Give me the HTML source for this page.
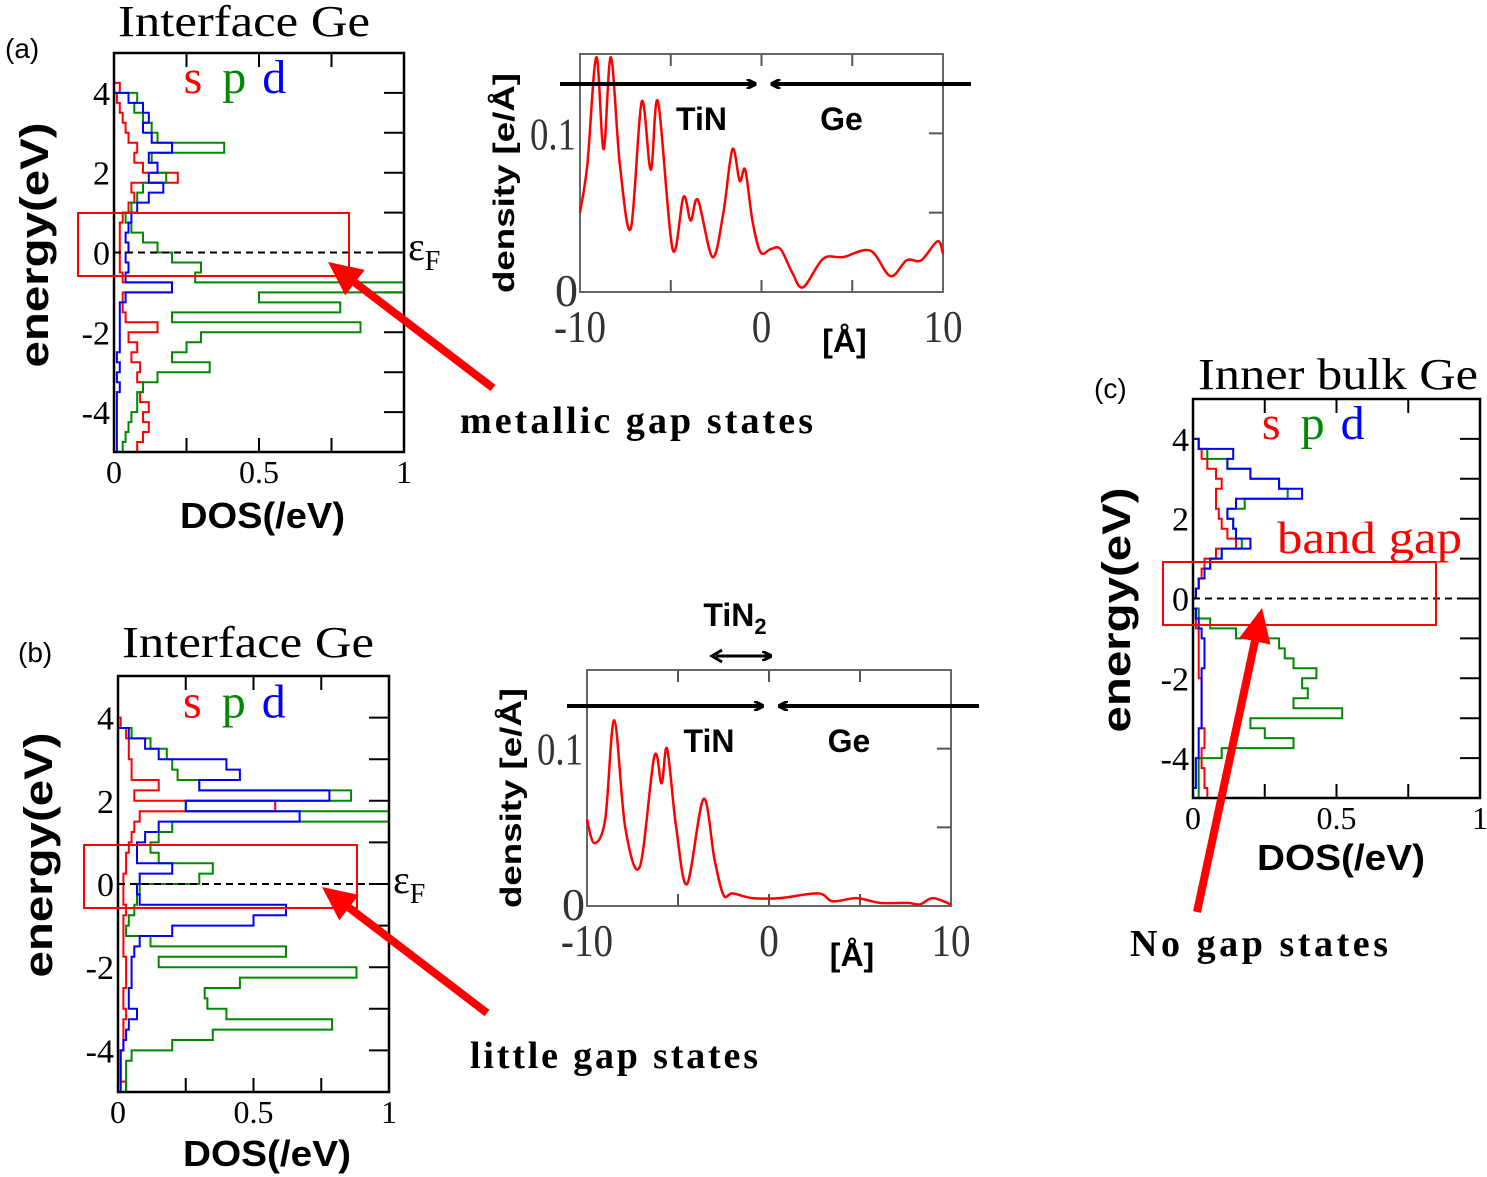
<!DOCTYPE html>
<html><head><meta charset="utf-8"><style>
html,body{margin:0;padding:0;background:#fff;}
svg{display:block;}
.serif{font-family:"Liberation Serif",serif;}
.sans{font-family:"Liberation Sans",sans-serif;font-weight:bold;}
.plain{font-family:"Liberation Sans",sans-serif;}
</style></head><body>
<svg id="fig" width="1487" height="1177" viewBox="0 0 1487 1177" xmlns="http://www.w3.org/2000/svg">
<defs>
<marker id="ah" markerWidth="10" markerHeight="10" refX="9" refY="5" orient="auto" markerUnits="userSpaceOnUse"><path d="M0,0 L10,5 L0,10" fill="none" stroke="#000" stroke-width="3"/></marker>
</defs>
<text class="plain" x="5" y="58" font-size="28">(a)</text>
<text class="serif" x="118" y="36" font-size="44" textLength="252" lengthAdjust="spacingAndGlyphs">Interface Ge</text>
<text class="sans" font-size="40" transform="translate(48,245) rotate(-90)" text-anchor="middle" textLength="245" lengthAdjust="spacingAndGlyphs">energy(eV)</text>
<text class="sans" x="180" y="528" font-size="36" textLength="165" lengthAdjust="spacingAndGlyphs">DOS(/eV)</text>
<text class="serif" x="460" y="433" font-size="38" font-weight="bold" textLength="353" lengthAdjust="spacing">metallic  gap states</text>
<text class="serif" x="408" y="260" font-size="40">ε<tspan font-size="28" dy="10">F</tspan></text>

<text class="plain" x="18" y="662" font-size="28">(b)</text>
<text class="serif" x="122" y="657" font-size="44" textLength="252" lengthAdjust="spacingAndGlyphs">Interface Ge</text>
<text class="sans" font-size="40" transform="translate(52,855) rotate(-90)" text-anchor="middle" textLength="245" lengthAdjust="spacingAndGlyphs">energy(eV)</text>
<text class="sans" x="183" y="1166" font-size="36" textLength="168" lengthAdjust="spacingAndGlyphs">DOS(/eV)</text>
<text class="serif" x="470" y="1068" font-size="38" font-weight="bold" textLength="288" lengthAdjust="spacing">little  gap states</text>
<text class="serif" x="393" y="893" font-size="40">ε<tspan font-size="28" dy="10">F</tspan></text>

<text class="plain" x="1094" y="398" font-size="28">(c)</text>
<text class="serif" x="1198" y="389" font-size="44" textLength="280" lengthAdjust="spacingAndGlyphs">Inner bulk Ge</text>
<text class="sans" font-size="40" transform="translate(1130,610) rotate(-90)" text-anchor="middle" textLength="245" lengthAdjust="spacingAndGlyphs">energy(eV)</text>
<text class="sans" x="1257" y="870" font-size="36" textLength="168" lengthAdjust="spacingAndGlyphs">DOS(/eV)</text>
<text class="serif" x="1277" y="553" font-size="46" fill="#f00" textLength="185" lengthAdjust="spacingAndGlyphs">band gap</text>
<text class="serif" x="1130" y="956" font-size="38" font-weight="bold" textLength="258" lengthAdjust="spacing">No gap states</text>

<g id="plots"></g>
</svg>
<script>
const energyGrid = [5,4.75,4.5,4.25,4,3.75,3.5,3.25,3,2.75,2.5,2.25,2,1.75,1.5,1.25,1,0.75,0.5,0.25,0,-0.25,-0.5,-0.75,-1,-1.25,-1.5,-1.75,-2,-2.25,-2.5,-2.75,-3,-3.25,-3.5,-3.75,-4,-4.25,-4.5,-4.75,-5];
const aS = [0,0,0,0.02,0.01,0.02,0.03,0.04,0.05,0.08,0.07,0.1,0.22,0.06,0.07,0.05,0.03,0.02,0.02,0.02,0.02,0.02,0.03,0.2,0.03,0.03,0.04,0.15,0.05,0.08,0.06,0.09,0.08,0.1,0.09,0.12,0.1,0.12,0.1,0.08,0.07];
const aP = [0,0,0,0,0.08,0.07,0.1,0.13,0.15,0.38,0.13,0.15,0.18,0.1,0.08,0.06,0.04,0.06,0.1,0.15,0.2,0.3,0.28,1.0,0.5,0.78,0.2,0.85,0.3,0.25,0.2,0.33,0.15,0.1,0.08,0.08,0.06,0.05,0.04,0.03,0.03];
const aD = [0,0,0,0,0.05,0.1,0.12,0.1,0.13,0.2,0.12,0.15,0.12,0.17,0.12,0.08,0.06,0.05,0.04,0.05,0.04,0.05,0.04,0.2,0.04,0.02,0.02,0.02,0.02,0.02,0.01,0.02,0.01,0.02,0.01,0.01,0.01,0.01,0.01,0.01,0.01];
const bS = [0,0,0,0,0.01,0.03,0.04,0.04,0.05,0.05,0.15,0.06,0.58,0.08,0.06,0.05,0.04,0.03,0.03,0.02,0.02,0.02,0.03,0.02,0.02,0.02,0.02,0.03,0.03,0.03,0.02,0.02,0.03,0.02,0.02,0.02,0.01,0.01,0.01,0.03,0.07];
const bP = [0,0,0,0,0,0.05,0.12,0.18,0.2,0.22,0.3,0.86,0.25,1.0,0.2,0.15,0.12,0.15,0.35,0.3,0.08,0.07,0.06,0.04,0.03,0.12,0.62,0.15,0.88,0.45,0.32,0.33,0.4,0.79,0.35,0.2,0.05,0.03,0.03,0.03,0.03];
const bD = [0,0,0,0,0,0.04,0.1,0.15,0.4,0.45,0.3,0.78,0.25,0.67,0.15,0.1,0.07,0.07,0.2,0.08,0.07,0.08,0.62,0.5,0.2,0.08,0.06,0.05,0.05,0.05,0.04,0.04,0.07,0.04,0.03,0.02,0.01,0.01,0.01,0.01,0.01];
const cS = [0,0,0,0,0.02,0.03,0.05,0.08,0.1,0.08,0.08,0.09,0.1,0.12,0.15,0.08,0.04,0.03,0.02,0.01,0,0.01,0.01,0.02,0.02,0.02,0.02,0.02,0.03,0.03,0.03,0.03,0.03,0.04,0.04,0.03,0.03,0.04,0.04,0.05,0.06];
const cP = [0,0,0,0,0.02,0.05,0.12,0.2,0.3,0.33,0.18,0.12,0.14,0.15,0.17,0.1,0.06,0.04,0.02,0.01,0,0.02,0.06,0.15,0.3,0.32,0.35,0.43,0.38,0.4,0.35,0.52,0.2,0.25,0.35,0.1,0.02,0.02,0.02,0.02,0.02];
const cD = [0,0,0,0,0.02,0.14,0.12,0.2,0.3,0.38,0.15,0.12,0.14,0.15,0.2,0.1,0.06,0.04,0.02,0.01,0,0.01,0.02,0.03,0.04,0.04,0.04,0.03,0.03,0.03,0.03,0.03,0.03,0.02,0.02,0.02,0.01,0.01,0.01,0,0];
const densAX = [-10,-9.6,-9.1,-8.7,-8.3,-7.8,-7.2,-6.6,-6.1,-5.7,-4.9,-4.3,-3.9,-3.5,-2.7,-2.1,-1.6,-1.2,-0.9,-0.5,-0.05,0.5,1.05,1.7,2.3,3.4,4.5,6,7.1,8,8.8,9.7,10];
const densAY = [0.05,0.08,0.148,0.09,0.148,0.08,0.04,0.12,0.077,0.12,0.027,0.06,0.045,0.058,0.022,0.05,0.09,0.07,0.077,0.045,0.025,0.027,0.027,0.012,0.003,0.021,0.022,0.026,0.01,0.02,0.02,0.032,0.024];
const densBX = [-10,-9.6,-9,-8.5,-7.9,-7.1,-6.3,-5.9,-5.6,-5.1,-4.5,-3.6,-3,-2.5,-2,-0.9,0.6,2.7,3.5,4.8,6.1,7.6,8.3,9,10];
const densBY = [0.055,0.04,0.055,0.118,0.05,0.025,0.095,0.078,0.1,0.05,0.014,0.068,0.03,0.007,0.008,0.005,0.005,0.008,0.003,0.005,0.002,0.002,0.001,0.005,0.001];
const dosXTicks = ["0","0.5","1"];
const dosYTicks = ["4","2","0","-2","-4"];
const densXTicks = ["-10","0","10"];

const NS="http://www.w3.org/2000/svg";
const root=document.getElementById('plots');
function mk(tag,attrs,parent){const e=document.createElementNS(NS,tag);for(const k in attrs)e.setAttribute(k,attrs[k]);(parent||root).appendChild(e);return e;}
function txt(s,attrs,parent){const e=mk('text',attrs,parent);e.textContent=s;return e;}

function dosPanel(id,box,series,redBox){
  const g=mk('g',{});
  
  
  const [x0,x1,yTop,yBot]=box;
  const sx=v=>x0+v*(x1-x0);
  const sy=e=>yTop+(5-e)/10*(yBot-yTop);
  for(let e=-4;e<=4;e++){
    const t=mk('line',{x1:x1-20,x2:x1,y1:sy(e),y2:sy(e),stroke:'#000','stroke-width':2},g);
    
    
  }
  for(let i=1;i<4;i++){
    const v=i*0.25;
    mk('line',{x1:sx(v),x2:sx(v),y1:yTop,y2:yTop+14,stroke:'#000','stroke-width':2},g);
    mk('line',{x1:sx(v),x2:sx(v),y1:yBot,y2:yBot-14,stroke:'#000','stroke-width':2},g);
  }
  dosYTicks.forEach(s=>{
    const l=txt(s,{x:x0-4,y:sy(+s)+12,'font-size':34,'text-anchor':'end',class:'serif'},g);
    
    
  });
  dosXTicks.forEach(s=>{
    const l=txt(s,{x:sx(+s),y:yBot+31,'font-size':32,'text-anchor':'middle',class:'serif'},g);
    
    
  });
  const cols=['#f00','#080','#00f'];
  const names=['s-series','p-series','d-series'];
  series.forEach((arr,k)=>{
    let d='';
    arr.forEach((v,i)=>{
      const y=sy(energyGrid[i]);
      const yn=i<arr.length-1?sy(energyGrid[i+1]):y;
      d+=(i?'L':'M')+sx(Math.min(v,1)).toFixed(1)+','+y.toFixed(1)+'L'+sx(Math.min(v,1)).toFixed(1)+','+yn.toFixed(1);
    });
    const p=mk('path',{d:d,fill:'none',stroke:cols[k],'stroke-width':2},g);
    
    
  });
  const f=mk('line',{x1:x0,x2:x1,y1:sy(0),y2:sy(0),stroke:'#000','stroke-width':2,'stroke-dasharray':'7,5'},g);
  
  
  const fr=mk('rect',{x:x0,y:yTop,width:x1-x0,height:yBot-yTop,fill:'none',stroke:'#000','stroke-width':2.5},g);
  
  
  const lg=mk('text',{x:sx(0.24),y:sy(4.0),'font-size':48,class:'serif'},g);
  
  
  lg.innerHTML='<tspan fill="#f00">s</tspan> <tspan fill="#080" dx="8">p</tspan> <tspan fill="#00f" dx="4">d</tspan>';
  const rb=mk('rect',{x:redBox[0],y:redBox[1],width:redBox[2]-redBox[0],height:redBox[3]-redBox[1],fill:'none',stroke:'#f00','stroke-width':2},g);
  
  
}

function smoothPath(pts){
  let d='M'+pts[0][0]+','+pts[0][1];
  for(let i=0;i<pts.length-1;i++){
    const p0=pts[Math.max(i-1,0)],p1=pts[i],p2=pts[i+1],p3=pts[Math.min(i+2,pts.length-1)];
    const c1=[p1[0]+(p2[0]-p0[0])/6,p1[1]+(p2[1]-p0[1])/6];
    const c2=[p2[0]-(p3[0]-p1[0])/6,p2[1]-(p3[1]-p1[1])/6];
    d+='C'+c1.map(n=>n.toFixed(1)).join(',')+' '+c2.map(n=>n.toFixed(1)).join(',')+' '+p2[0].toFixed(1)+','+p2[1].toFixed(1);
  }
  return d;
}

function densPanel(id,box,xs,ys,arrowY,labelY){
  const g=mk('g',{});
  
  
  const [x0,x1,yTop,yBot]=box;
  const sx=v=>x0+(v+10)/20*(x1-x0);
  const sy=v=>yBot-v/0.1*(yBot-yTop)/1.5;
  [-5,0,5].forEach(v=>{
    mk('line',{x1:sx(v),x2:sx(v),y1:yTop,y2:yTop+12,stroke:'#555','stroke-width':2},g);
    mk('line',{x1:sx(v),x2:sx(v),y1:yBot,y2:yBot-12,stroke:'#555','stroke-width':2},g);
  });
  [0.05,0.1].forEach(v=>{
    mk('line',{x1:x1,x2:x1-14,y1:sy(v),y2:sy(v),stroke:'#555','stroke-width':2},g);
  });
  const fr=mk('rect',{x:x0,y:yTop,width:x1-x0,height:yBot-yTop,fill:'none',stroke:'#666','stroke-width':2},g);
  
  
  const pts=xs.map((x,i)=>[sx(x),sy(ys[i])]);
  const p=mk('path',{d:smoothPath(pts),fill:'none',stroke:'#f00','stroke-width':2.5},g);
  
  
  densXTicks.forEach(s=>{
    const l=txt(s,{x:sx(+s),y:yBot+50,'font-size':46,'text-anchor':'middle',class:'serif',fill:'#333',transform:'translate('+sx(+s)+','+(yBot+50)+') scale(0.85,1) translate('+(-sx(+s))+','+(-(yBot+50))+')'},g);
    
    
  });
  const t1=txt('0.1',{x:x0-4,y:sy(0.1)+16,'font-size':46,'text-anchor':'end',class:'serif',fill:'#333',textLength:46,lengthAdjust:'spacingAndGlyphs'},g);
  
  
  const t0=txt('0',{x:x0-2,y:yBot+14,'font-size':46,'text-anchor':'end',class:'serif',fill:'#333'},g);
  
  
  const xl=txt('[Å]',{x:sx(0)+83,y:yBot+60,'font-size':32,'text-anchor':'middle',class:'sans'},g);
  
  
  const yl=txt('density [e/Å]',{'font-size':30,'text-anchor':'middle',class:'sans',textLength:220,lengthAdjust:'spacingAndGlyphs',transform:'translate('+(x0-66)+','+((yTop+yBot)/2+10)+') rotate(-90)'},g);
  
  
  const a1=mk('line',{x1:x0-20,x2:sx(0)-6,y1:arrowY,y2:arrowY,stroke:'#000','stroke-width':4,'marker-end':'url(#ah)'},g);
  
  
  const a2=mk('line',{x1:x1+28,x2:sx(0)+10,y1:arrowY,y2:arrowY,stroke:'#000','stroke-width':4,'marker-end':'url(#ah)'},g);
  
  
  const l1=txt('TiN',{x:sx(0)-60,y:labelY,'font-size':32,'text-anchor':'middle',class:'sans'},g);
  
  
  const l2=txt('Ge',{x:sx(0)+80,y:labelY,'font-size':32,'text-anchor':'middle',class:'sans'},g);
  
  
}

function redArrow(name,x1,y1,x2,y2){
  const dx=x2-x1,dy=y2-y1,L=Math.hypot(dx,dy),ux=dx/L,uy=dy/L;
  const bx=x2-ux*34,by=y2-uy*34;
  const l=mk('line',{x1:x1,y1:y1,x2:bx,y2:by,stroke:'#f00','stroke-width':8});
  
  
  const h=mk('polygon',{points:x2+','+y2+' '+(bx-uy*16)+','+(by+ux*16)+' '+(bx+uy*16)+','+(by-ux*16),fill:'#f00'});
  
  
}

dosPanel('panel-a',[114,404,53,452],[aS,aP,aD],[78,213,349,276]);
dosPanel('panel-b',[118,389,676,1092],[bS,bP,bD],[84,845,357,908]);
dosPanel('panel-c',[1193,1480,399,798],[cS,cP,cD],[1163,562,1436,625]);
densPanel('panel-a',[580,943,54,292],densAX,densAY,84,130);
densPanel('panel-b',[587,951,670,906],densBX,densBY,706,752);
const tn=mk('text',{x:735,y:626,'font-size':32,'text-anchor':'middle',class:'sans'});


tn.innerHTML='TiN<tspan font-size="22" dy="8">2</tspan>';
const da=mk('line',{x1:716,x2:771,y1:656,y2:656,stroke:'#000','stroke-width':3,'marker-end':'url(#ah)'});


const dh=mk('path',{d:'M722,650 L712,656 L722,662',fill:'none',stroke:'#000','stroke-width':3});


redArrow('panel-a-arrow',493,388,328,262);
redArrow('panel-b-arrow',487,1013,322,887);
redArrow('panel-c-arrow',1197,912,1262,608);
</script>
</body></html>
